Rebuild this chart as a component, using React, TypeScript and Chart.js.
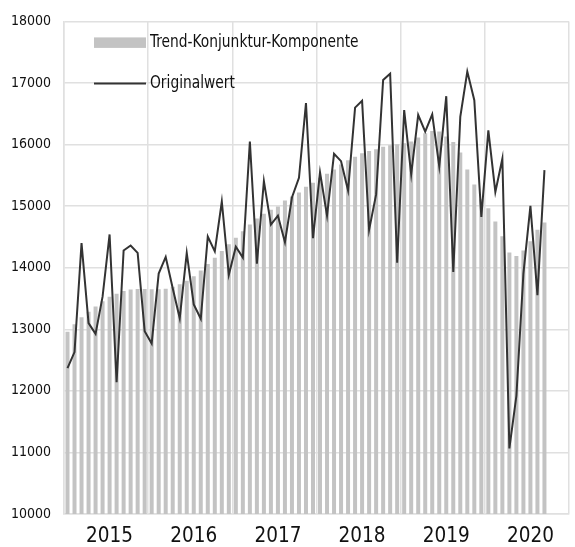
import React, { useEffect, useRef } from "react";
import { Chart, registerables } from "chart.js";

Chart.register(...registerables);

const years = ["2015", "2016", "2017", "2018", "2019", "2020"];
const monthNames = ["01", "02", "03", "04", "05", "06", "07", "08", "09", "10", "11", "12"];

const trendValues = [
  12960, 13080, 13195, 13285, 13370, 13455, 13530, 13575, 13620, 13645, 13655, 13655,
  13650, 13650, 13660, 13690, 13730, 13790, 13860, 13955, 14060, 14160, 14270, 14380,
  14485, 14590, 14700, 14800, 14875, 14940, 14995, 15090, 15155, 15220, 15315, 15380,
  15460, 15525, 15595, 15675, 15745, 15800, 15860, 15895, 15925, 15965, 15990, 16005,
  16020, 16050, 16115, 16185, 16220, 16210, 16130, 16040, 15870, 15595, 15350, 15110,
  14965, 14750, 14510, 14245, 14190, 14280, 14430, 14615, 14735,
];

const originalValues = [
  12370, 12630, 14400, 13100, 12925, 13530, 14540, 12140, 14280, 14360, 14240, 12970,
  12770, 13905, 14175, 13665, 13180, 14240, 13405, 13170, 14505, 14265, 15075, 13885,
  14340, 14165, 16050, 14065, 15405, 14700, 14845, 14415, 15140, 15460, 16675, 14480,
  15550, 14845, 15850, 15730, 15255, 16600, 16710, 14615, 15190, 17050, 17150, 14080,
  16560, 15515, 16480, 16210, 16490, 15645, 16785, 13930, 16450, 17185, 16720, 14825,
  16230, 15230, 15770, 11065, 11920, 13905, 15005, 13555, 15585,
];

const seriesLabels = ["Trend-Konjunktur-Komponente", "Originalwert"];

const FONT = '"Liberation Sans Narrow", "Arial Narrow", "DejaVu Sans Condensed", "Liberation Sans", Arial, sans-serif';
const GRID = "#e0e0e0";
const BAR_COLOR = "#c3c3c3";
const LINE_COLOR = "#333333";

const insideLegend = {
  id: "insideLegend",
  afterDraw(chart: any) {
    const { ctx, chartArea } = chart;
    const x0 = chartArea.left + 30;
    const w = 52;
    const textX = x0 + w + 4;
    const rows = [chartArea.top + 21, chartArea.top + 62];
    const ds = chart.data.datasets;
    const squeeze = 0.853;
    const drawText = (s: string, x: number, y: number) => {
      ctx.save();
      ctx.translate(x, y);
      ctx.scale(squeeze, 1);
      ctx.fillText(s, 0, 0);
      ctx.restore();
    };
    ctx.save();
    ctx.font = `18px ${FONT}`;
    ctx.textBaseline = "middle";
    ctx.textAlign = "left";
    ctx.fillStyle = ds[0].backgroundColor;
    ctx.fillRect(x0, rows[0] - 5, w, 10.5);
    ctx.fillStyle = "#111";
    drawText(ds[0].label, textX, rows[0]);
    ctx.strokeStyle = ds[1].borderColor;
    ctx.lineWidth = 2;
    ctx.beginPath();
    ctx.moveTo(x0, rows[1]);
    ctx.lineTo(x0 + w, rows[1]);
    ctx.stroke();
    ctx.fillStyle = "#111";
    drawText(ds[1].label, textX, rows[1]);
    ctx.restore();
  },
};

export default function App() {
  const ref = useRef<HTMLCanvasElement | null>(null);

  useEffect(() => {
    if (!ref.current) return;
    const labels: string[] = [];
    years.forEach((y) => monthNames.forEach((m) => labels.push(`${y}-${m}`)));

    const chart = new Chart(ref.current, {
      type: "bar",
      data: {
        labels,
        datasets: [
          {
            type: "bar",
            label: seriesLabels[0],
            data: trendValues,
            backgroundColor: BAR_COLOR,
            borderWidth: 0,
            categoryPercentage: 1,
            barPercentage: 0.57,
            order: 2,
            xAxisID: "x",
            yAxisID: "y",
          } as any,
          {
            type: "line",
            label: seriesLabels[1],
            data: originalValues,
            borderColor: LINE_COLOR,
            backgroundColor: LINE_COLOR,
            borderWidth: 2,
            pointRadius: 0,
            tension: 0,
            fill: false,
            order: 1,
            xAxisID: "x",
            yAxisID: "y",
          } as any,
        ],
      },
      options: {
        responsive: false,
        animation: false,
        layout: { padding: { top: 17, right: 6, left: 0, bottom: 0 } },
        plugins: {
          legend: { display: false },
          tooltip: { enabled: false },
        },
        scales: {
          x: {
            type: "category",
            display: false,
            offset: true,
          },
          x2: {
            type: "category",
            position: "bottom",
            labels: years,
            offset: true,
            grid: {
              display: true,
              offset: true,
              color: GRID,
              lineWidth: 1.5,
              drawTicks: false,
            },
            border: { display: true, color: GRID, width: 1.5 },
            ticks: {
              color: "#111",
              font: { family: FONT, size: 20.5 },
              padding: 10,
              labelOffset: 3.5,
              maxRotation: 0,
              autoSkip: false,
            },
            afterFit: (scale: any) => {
              scale.height = 33;
            },
          },
          y: {
            type: "linear",
            min: 10000,
            max: 18000,
            grid: {
              color: GRID,
              lineWidth: 1.5,
              drawTicks: false,
            },
            border: { display: true, color: GRID, width: 1.5 },
            ticks: {
              stepSize: 1000,
              color: "#111",
              font: { family: FONT, size: 14 },
              padding: 13,
              callback: (v: any) => String(v),
            },
            afterFit: (scale: any) => {
              scale.width = 64;
            },
          },
        },
      } as any,
      plugins: [insideLegend],
    });
    return () => chart.destroy();
  }, []);

  return (
    <div style={{ position: "fixed", left: 0, top: 0, width: 575, height: 547, background: "#fff" }}>
      <canvas ref={ref} width={575} height={547} style={{ display: "block" }} />
    </div>
  );
}
